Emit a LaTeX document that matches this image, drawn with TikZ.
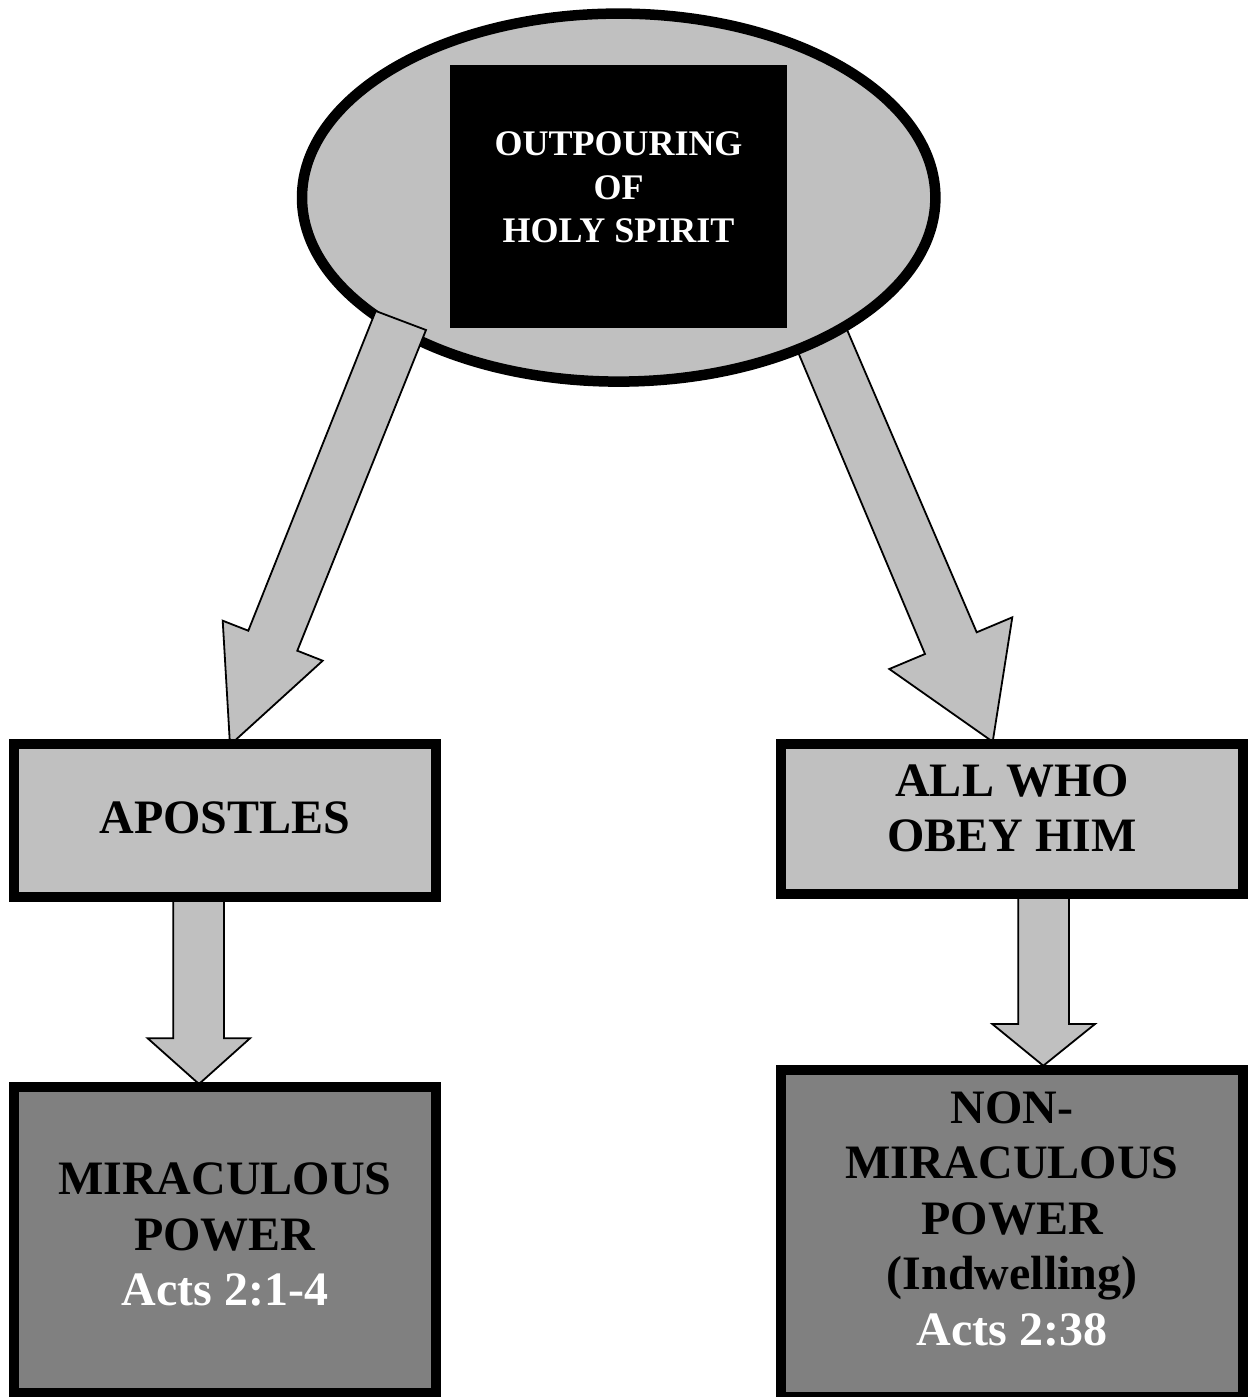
\documentclass[tikz,border=0pt]{standalone}
\usepackage{fontspec}
\setmainfont{Liberation Serif}
\usetikzlibrary{shapes.geometric}
\definecolor{lightg}{HTML}{C0C0C0}
\definecolor{darkg}{HTML}{808080}
\tikzset{
  oval/.style={ellipse, draw=black, fill=lightg, line width=10.5pt, inner sep=0pt},
  blackbox/.style={rectangle, fill=black, inner sep=0pt},
  graybox/.style={rectangle, draw=black, fill=lightg, line width=10pt, inner sep=0pt},
  darkbox/.style={rectangle, draw=black, fill=darkg, line width=10pt, inner sep=0pt},
  blockarrow/.style={draw=black, fill=lightg, line width=1.8pt, line join=miter},
  bigtext/.style={inner sep=0pt, anchor=north, align=center, text=black,
    font=\bfseries\fontsize{48}{55.5}\selectfont},
  toptext/.style={inner sep=0pt, anchor=north, align=center, text=white,
    font=\bfseries\fontsize{36}{43.5}\selectfont}
}
\begin{document}
\begin{tikzpicture}[x=1pt,y=-1pt]
\useasboundingbox[fill=white] (0,0) rectangle (1249,1397);

% right diagonal arrow (behind the ellipse)
\coordinate (rtip) at (992.7,741.7);
\draw[blockarrow] (777.5,303.3) -- (827.2,283.5) -- (976.7,632.3) -- (1012.3,617.3)
  -- (rtip) -- (889.3,669) -- (925,654) -- cycle;

% ellipse and black box
\node[oval, minimum width=633.4pt, minimum height=368pt] (oval) at (618.7,197.6) {};
\node[blackbox, minimum width=337pt, minimum height=263pt] (blk) at (618.5,196.5) {};
\node[toptext] (blkT) at (618.5,131.5) {OUTPOURING\\OF\\HOLY SPIRIT};

% left diagonal arrow (over the ellipse)
\coordinate (ltip) at (230,745);
\draw[blockarrow] (375.7,311) -- (426,330) -- (297.3,650.7) -- (322.7,660.7)
  -- (ltip) -- (222.7,620.7) -- (248.3,630.7) -- cycle;

% down arrows
\coordinate (dltip) at (199,1084);
\draw[blockarrow] (173.3,890) -- (224,890) -- (224,1038.3) -- (250,1038.3)
  -- (dltip) -- (147.7,1038.3) -- (173.3,1038.3) -- cycle;
\coordinate (drtip) at (1043.3,1065.7);
\draw[blockarrow] (1018.3,890) -- (1069,890) -- (1069,1024) -- (1095,1024)
  -- (drtip) -- (992.3,1024) -- (1018.3,1024) -- cycle;

% boxes
\node[graybox, minimum width=422.3pt, minimum height=153pt] (apo) at (224.85,820.5) {};
\node[graybox, minimum width=461.4pt, minimum height=150.3pt] (all) at (1012,819.15) {};
\node[darkbox, minimum width=422.3pt, minimum height=306.3pt] (mir) at (224.85,1240.15) {};
\node[darkbox, minimum width=461.4pt, minimum height=326.4pt] (non) at (1012,1233.5) {};

% texts
\node[bigtext] (apoT) at (224.85,801.2) {APOSTLES};
\node[bigtext] (allT) at (1012,764.5) {ALL WHO\\OBEY HIM};
\node[bigtext] (mirT) at (224.85,1162.8) {MIRACULOUS\\POWER\\{\color{white}Acts 2:1-4}};
\node[bigtext] (nonT) at (1012,1091.2) {NON-\\MIRACULOUS\\POWER\\(Indwelling)\\{\color{white}Acts 2:38}};
\end{tikzpicture}
\end{document}
